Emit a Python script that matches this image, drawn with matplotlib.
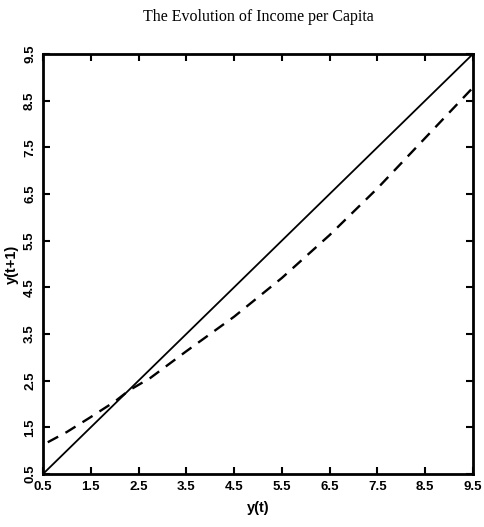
import matplotlib
matplotlib.use("Agg")
import matplotlib.pyplot as plt

# 45-degree line y(t+1) = y(t)
diag_x = [0.5, 9.5]
diag_y = [0.5, 9.5]

# transition curve
curve_x = [0.6, 1.0, 1.5, 2.0, 2.3, 2.75, 3.5, 4.5, 5.5, 6.5, 7.5, 8.5, 9.5]
curve_y = [1.18, 1.40, 1.72, 2.05, 2.29, 2.56, 3.13, 3.87, 4.70, 5.62, 6.62, 7.70, 8.78]

ticks = [0.5, 1.5, 2.5, 3.5, 4.5, 5.5, 6.5, 7.5, 8.5, 9.5]
tick_labels = ["0.5", "1.5", "2.5", "3.5", "4.5", "5.5", "6.5", "7.5", "8.5", "9.5"]

TICKFONT = ["Liberation Sans", "DejaVu Sans"]

fig = plt.figure(figsize=(4.84, 5.27), dpi=100)
ax = fig.add_axes([0.0888, 0.1006, 0.8884, 0.797])

ax.plot(diag_x, diag_y, color="black", lw=1.3, solid_capstyle="butt")
ax.plot(curve_x, curve_y, color="black", lw=1.7, dashes=(5, 3.5))

ax.set_xlim(0.5, 9.5)
ax.set_ylim(0.5, 9.5)
ax.set_xticks(ticks)
ax.set_yticks(ticks)
ax.set_xticklabels(tick_labels, family=TICKFONT, fontweight="bold", fontsize=9.5)
ax.set_yticklabels(tick_labels, family=TICKFONT, fontweight="bold", fontsize=9.5,
                   rotation=90, va="center")
ax.tick_params(direction="in", length=5, width=1.5, top=True, right=True, pad=5)
for s in ax.spines.values():
    s.set_linewidth(2)

ax.set_xlabel("y(t)", family=TICKFONT, fontweight="bold", fontsize=10.5, labelpad=6)
ax.set_ylabel("y(t+1)", family=TICKFONT, fontweight="bold", fontsize=10.5, labelpad=4)
ax.set_title("The Evolution of Income per Capita", family="Liberation Serif",
             fontsize=11.5, pad=24)

fig.savefig("out.png", dpi=100)
